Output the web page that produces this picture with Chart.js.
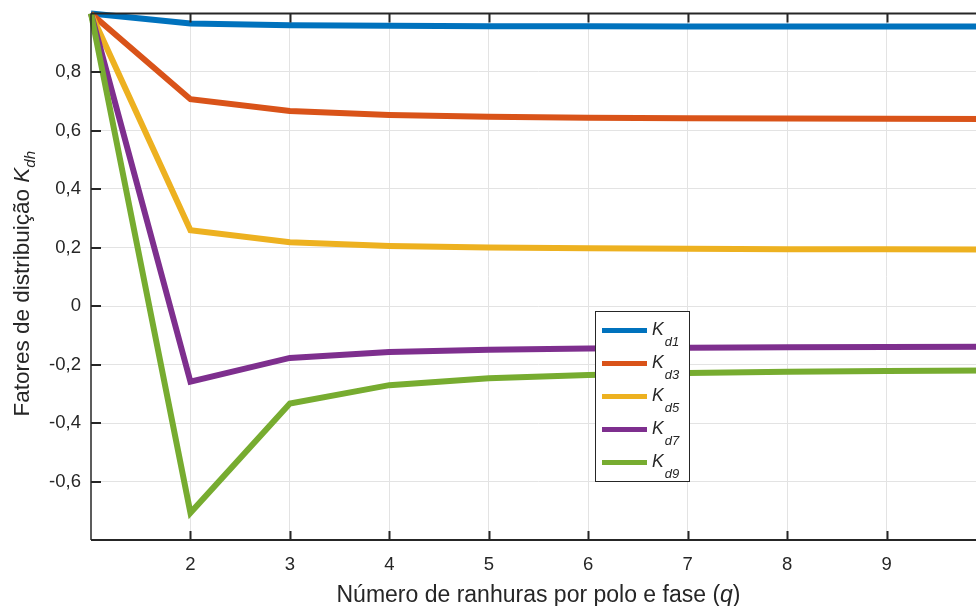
<!DOCTYPE html>
<html><head><meta charset="utf-8">
<script src="https://cdn.jsdelivr.net/npm/chart.js@4/dist/chart.umd.min.js"></script>
<style>html,body{margin:0;padding:0;background:#fff;overflow:hidden}#wrap{width:976px;height:606px;overflow:hidden;position:relative}canvas{display:block}</style>
</head><body><div id="wrap"><canvas id="c" width="986" height="606"></canvas></div>
<script>
const q   = [1, 2, 3, 4, 5, 6, 7, 8, 9, 10];
const kd1 = [1, 0.9659, 0.9598, 0.9577, 0.9567, 0.9561, 0.9558, 0.9556, 0.9555, 0.9554];
const kd3 = [1, 0.7071, 0.6667, 0.6533, 0.6472, 0.6440, 0.6420, 0.6407, 0.6399, 0.6392];
const kd5 = [1, 0.2588, 0.2176, 0.2053, 0.2000, 0.1972, 0.1955, 0.1944, 0.1937, 0.1932];
const kd7 = [1, -0.2588, -0.1774, -0.1576, -0.1494, -0.1453, -0.1429, -0.1413, -0.1403, -0.1395];
const kd9 = [1, -0.7071, -0.3333, -0.2706, -0.2472, -0.2357, -0.2291, -0.2250, -0.2222, -0.2203];
const seriesSubs = ['d1', 'd3', 'd5', 'd7', 'd9'];
const seriesColors = ['#0072BD', '#D95319', '#EDB120', '#7E2F8E', '#77AC30'];
const xTicks = [2, 3, 4, 5, 6, 7, 8, 9];
const yTicks = [-0.6, -0.4, -0.2, 0, 0.2, 0.4, 0.6, 0.8];
const yTickLabels = ['-0,6', '-0,4', '-0,2', '0', '0,2', '0,4', '0,6', '0,8'];
const xTitle = ['Número de ranhuras por polo e fase (', 'q', ')'];
const yTitle = ['Fatores de distribuição ', 'K', 'dh'];

const FONT = '"Liberation Sans", Arial, Helvetica, sans-serif';
const INK = '#262626';
const allSeries = [kd1, kd3, kd5, kd7, kd9];

const datasets = allSeries.map((s, i) => ({
  label: 'K' + seriesSubs[i],
  data: s.map((v, j) => ({x: q[j], y: v})),
  borderColor: seriesColors[i],
  backgroundColor: seriesColors[i],
  borderWidth: 6,
  pointRadius: 0,
  tension: 0,
  clip: false,
  order: allSeries.length - i,
  borderJoinStyle: 'miter'
}));

function drawRich(ctx, parts, x, y) {
  let w = 0;
  parts.forEach(p => { ctx.font = p[1]; w += ctx.measureText(p[0]).width; });
  let cx = x - w / 2;
  ctx.textAlign = 'left';
  ctx.textBaseline = 'alphabetic';
  parts.forEach(p => { ctx.font = p[1]; ctx.fillText(p[0], cx, y + (p[2] || 0)); cx += ctx.measureText(p[0]).width; });
}

const framePlugin = {
  id: 'frame',
  afterDraw(chart) {
    const ctx = chart.ctx, a = chart.chartArea;
    const xs = chart.scales.x, ys = chart.scales.y;
    ctx.save();
    ctx.strokeStyle = INK;
    ctx.fillStyle = INK;
    ctx.lineWidth = 2;
    ctx.beginPath();
    ctx.moveTo(a.left, a.top); ctx.lineTo(a.right, a.top);
    ctx.moveTo(a.left, a.bottom); ctx.lineTo(a.right, a.bottom);
    ctx.stroke();
    ctx.lineWidth = 1.5;
    ctx.beginPath();
    ctx.moveTo(a.left, a.top); ctx.lineTo(a.left, a.bottom);
    ctx.stroke();
    ctx.lineWidth = 2;
    ctx.beginPath();
    xTicks.forEach(v => {
      const px = Math.round(xs.getPixelForValue(v)) + 0.5;
      ctx.moveTo(px, a.bottom); ctx.lineTo(px, a.bottom - 9);
      ctx.moveTo(px, a.top); ctx.lineTo(px, a.top + 9);
    });
    yTicks.forEach(v => {
      const py = Math.round(ys.getPixelForValue(v));
      ctx.moveTo(a.left, py); ctx.lineTo(a.left + 10, py);
    });
    ctx.stroke();
    ctx.fillStyle = INK;
    drawRich(ctx, [[xTitle[0], '23px ' + FONT], [xTitle[1], 'italic 23px ' + FONT], [xTitle[2], '23px ' + FONT]], (a.left + a.right) / 2, 602);
    ctx.save();
    ctx.translate(29, (a.top + a.bottom) / 2 + 7);
    ctx.rotate(-Math.PI / 2);
    drawRich(ctx, [[yTitle[0], '22.5px ' + FONT], [yTitle[1], 'italic 22.5px ' + FONT], [yTitle[2], 'italic 15px ' + FONT, 6]], 0, 0);
    ctx.restore();
    const bx = 595.5, by = 311.5, bw = 94, bh = 170;
    ctx.fillStyle = '#ffffff';
    ctx.fillRect(bx, by, bw, bh);
    ctx.lineWidth = 1;
    ctx.strokeStyle = INK;
    ctx.strokeRect(bx, by, bw, bh);
    datasets.forEach((d, i) => {
      const ly = 330.5 + i * 33;
      ctx.strokeStyle = d.borderColor;
      ctx.lineWidth = 5;
      ctx.beginPath();
      ctx.moveTo(602, ly); ctx.lineTo(647, ly);
      ctx.stroke();
      ctx.fillStyle = INK;
      ctx.textAlign = 'left';
      ctx.textBaseline = 'alphabetic';
      ctx.font = 'italic 17.5px ' + FONT;
      ctx.fillText('K', 652, ly + 4);
      const kw = ctx.measureText('K').width;
      ctx.font = 'italic 13px ' + FONT;
      ctx.fillText(seriesSubs[i], 652 + kw + 1, ly + 15);
    });
    ctx.restore();
  }
};

new Chart(document.getElementById('c'), {
  type: 'line',
  data: { datasets },
  options: {
    responsive: false,
    animation: false,
    devicePixelRatio: 1,
    layout: { padding: { left: 0, top: 13.5, right: 0, bottom: 0 } },
    plugins: { legend: { display: false }, tooltip: { enabled: false } },
    scales: {
      x: {
        type: 'linear', min: 1, max: 10,
        afterFit: s => { s.height = 66; s.paddingLeft = 0; s.paddingRight = 0; },
        afterBuildTicks: s => { s.ticks = xTicks.map(v => ({value: v})); },
        grid: { color: '#e3e3e3', lineWidth: 1, drawTicks: false },
        border: { display: false },
        ticks: { color: INK, font: { family: FONT, size: 18.5 }, padding: 14, maxRotation: 0, autoSkip: false,
                 callback: v => String(v) }
      },
      y: {
        type: 'linear', min: -0.8, max: 1.0,
        afterFit: s => { s.width = 91; s.paddingTop = 0; s.paddingBottom = 0; },
        afterBuildTicks: s => { s.ticks = yTicks.map(v => ({value: v})); },
        grid: { color: '#e3e3e3', lineWidth: 1, drawTicks: false },
        border: { display: false },
        ticks: { color: INK, font: { family: FONT, size: 18.5 }, padding: 10, autoSkip: false,
                 callback: (v) => { const k = yTicks.findIndex(t => Math.abs(t - v) < 1e-6); return k >= 0 ? yTickLabels[k] : ''; } }
      }
    }
  },
  plugins: [framePlugin]
});
</script></body></html>
